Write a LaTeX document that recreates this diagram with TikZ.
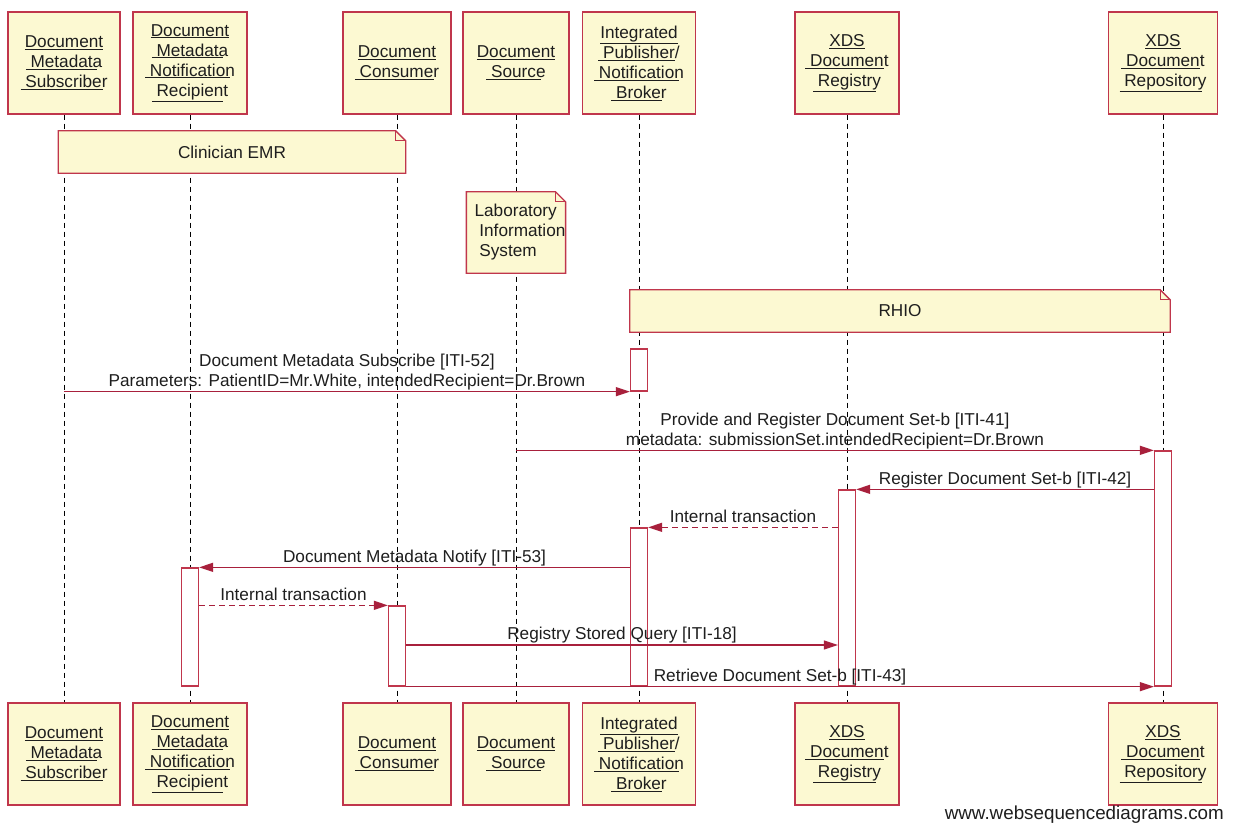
\documentclass[tikz,border=0pt]{standalone}
\usepackage{fontspec}
\setmainfont{Liberation Sans}
\usetikzlibrary{arrows.meta,calc}
\definecolor{boxfill}{HTML}{FCF9D2}
\definecolor{boxline}{HTML}{C0364C}
\definecolor{arrowcol}{HTML}{A8203C}
\definecolor{txt}{HTML}{1E1E1E}
\pgfdeclarelayer{bg}\pgfdeclarelayer{mid}\pgfsetlayers{bg,mid,main}
\newcommand\ulsp[1]{\rlap{\underline{\phantom{#1}}}\ #1}
\newcommand\ulno[1]{\underline{#1}}
\newcommand\wsdfont{\fontsize{17.2}{20}\selectfont}
\begin{document}
\begin{tikzpicture}[x=1pt,y=1pt,
  participant/.style={draw=boxline, fill=boxfill, line width=1.3pt, inner sep=0pt, align=center, minimum height=102pt, font=\wsdfont, text=txt},
  lifeline/.style={draw=black, line width=0.9pt, dash pattern=on 5pt off 4pt},
  notebody/.style={draw=boxline, fill=boxfill, line width=1.3pt, line join=miter},
  notetext/.style={inner sep=0pt, font=\wsdfont, text=txt},
  bar/.style={draw=boxline, fill=white, line width=1.3pt, minimum width=17pt, inner sep=0pt},
  msg/.style={draw=arrowcol, line width=1.3pt, -{Triangle[length=14pt,width=9pt]}},
  reply/.style={msg, dash pattern=on 6pt off 4pt},
  lbl/.style={anchor=south, inner sep=0pt, text depth=4pt, align=center, font=\wsdfont, text=txt, yshift=0.5pt}]
\useasboundingbox (0,0) rectangle (1233,-824);
\begin{pgfonlayer}{bg}
\fill[white] (0,0) rectangle (1233,-824);
\end{pgfonlayer}

% participants (top)
\node[participant, minimum width=112pt] (subT) at (64,-63) {\ulno{Document}\\\ulsp{Metadata}\\\ulsp{Subscriber}};
\node[participant, minimum width=114pt] (recT) at (190,-63) {\ulno{Document}\\\ulsp{Metadata}\\\ulsp{Notification}\\\ulsp{Recipient}};
\node[participant, minimum width=108pt] (conT) at (397,-63) {\ulno{Document}\\\ulsp{Consumer}};
\node[participant, minimum width=106pt] (srcT) at (516,-63) {\ulno{Document}\\\ulsp{Source}};
\node[participant, minimum width=113pt] (brkT) at (639,-63) {\ulno{Integrated}\\\ulsp{Publisher/}\\\ulsp{Notification}\\\ulsp{Broker}};
\node[participant, minimum width=104pt] (regT) at (847,-63) {\ulno{XDS}\\\ulsp{Document}\\\ulsp{Registry}};
\node[participant, minimum width=109pt] (repT) at (1163,-63) {\ulno{XDS}\\\ulsp{Document}\\\ulsp{Repository}};

% participants (bottom)
\node[participant, minimum width=112pt] (subB) at (64,-754) {\ulno{Document}\\\ulsp{Metadata}\\\ulsp{Subscriber}};
\node[participant, minimum width=114pt] (recB) at (190,-754) {\ulno{Document}\\\ulsp{Metadata}\\\ulsp{Notification}\\\ulsp{Recipient}};
\node[participant, minimum width=108pt] (conB) at (397,-754) {\ulno{Document}\\\ulsp{Consumer}};
\node[participant, minimum width=106pt] (srcB) at (516,-754) {\ulno{Document}\\\ulsp{Source}};
\node[participant, minimum width=113pt] (brkB) at (639,-754) {\ulno{Integrated}\\\ulsp{Publisher/}\\\ulsp{Notification}\\\ulsp{Broker}};
\node[participant, minimum width=104pt] (regB) at (847,-754) {\ulno{XDS}\\\ulsp{Document}\\\ulsp{Registry}};
\node[participant, minimum width=109pt] (repB) at (1163,-754) {\ulno{XDS}\\\ulsp{Document}\\\ulsp{Repository}};

% lifelines
\begin{pgfonlayer}{bg}
\foreach \p in {sub,rec,con,src,brk,reg,rep}
  \draw[lifeline] (\p T.south) -- (\p B.north);
\end{pgfonlayer}

% notes
\node[notetext, minimum width=347pt, minimum height=42pt] (emr) at (232,-152) {Clinician EMR};
\node[notetext, minimum width=98pt, minimum height=81pt, align=left] (lis) at (516,-232.5) {\hspace*{8pt}Laboratory\\\hspace*{8pt}\ Information\\\hspace*{8pt}\ System};
\node[notetext, minimum width=540pt, minimum height=42pt] (rhio) at (900,-311) {RHIO};
\begin{pgfonlayer}{mid}
\foreach \n in {emr,lis,rhio} {
  \draw[notebody] (\n.north west) -- ([xshift=-10pt]\n.north east) -- ([yshift=-10pt]\n.north east) -- (\n.south east) -- (\n.south west) -- cycle;
  \draw[notebody, fill=none] ([xshift=-10pt]\n.north east) |- ([yshift=-10pt]\n.north east);
}
\end{pgfonlayer}

% activation bars
\node[bar, minimum height=42pt]  (b1) at (639,-370) {};
\node[bar, minimum height=235pt] (b2) at (1163,-568.5) {};
\node[bar, minimum height=196pt] (b3) at (847,-588) {};
\node[bar, minimum height=158pt] (b4) at (639,-607) {};
\node[bar, minimum height=118pt] (b5) at (190,-627) {};
\node[bar, minimum height=80pt]  (b6) at (397,-646) {};

% messages
\draw[msg] (subT.south |- b1.south west) -- node[lbl] (l1) {Document Metadata Subscribe [ITI-52]\\Parameters: PatientID=Mr.White, intendedRecipient=Dr.Brown} (b1.south west);
\draw[msg] (srcT.south |- b2.north west) -- node[lbl] (l2) {Provide and Register Document Set-b [ITI-41]\\metadata: submissionSet.intendedRecipient=Dr.Brown} (b2.north west);
\draw[msg] (b2.west |- b3.north east) -- node[lbl] (l3) {Register Document Set-b [ITI-42]} (b3.north east);
\draw[reply] (b3.west |- b4.north east) -- node[lbl] (l4) {Internal transaction} (b4.north east);
\draw[msg] (b4.west |- b5.north east) -- node[lbl] (l5) {Document Metadata Notify [ITI-53]} (b5.north east);
\draw[reply] (b5.east |- b6.north west) -- node[lbl] (l6) {Internal transaction} (b6.north west);
\coordinate (q7) at (0,-645);
\draw[msg] (b6.east |- q7) -- node[lbl] (l7) {Registry Stored Query [ITI-18]} (b3.west |- q7);
\draw[msg] (b6.south east) -- node[lbl] (l8) {Retrieve Document Set-b [ITI-43]} (b2.south west);

% watermark
\node[anchor=base east, inner sep=0pt, font=\fontsize{18.8}{20}\selectfont, text=txt] (wm) at (1224,-819) {www.websequencediagrams.com};
\end{tikzpicture}
\end{document}
